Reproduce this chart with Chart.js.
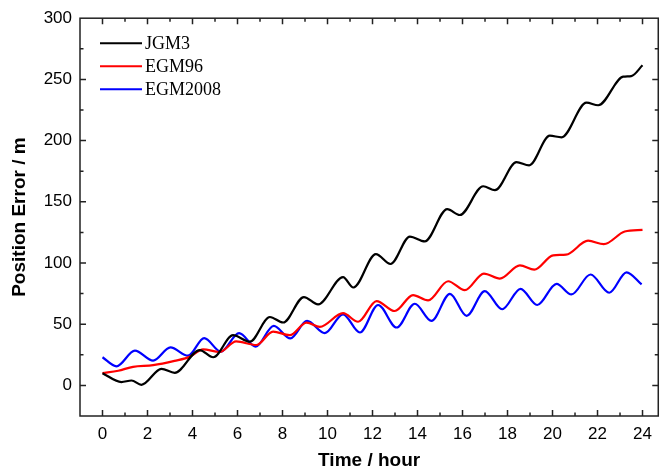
<!DOCTYPE html>
<html>
<head>
<meta charset="utf-8">
<script src="https://cdn.jsdelivr.net/npm/chart.js@4"></script>
<style>
  body { margin: 0; background: #fff; }
  #chart { display: block; }
</style>
</head>
<body>
<canvas id="chart" width="660" height="475"></canvas>
<script>
// values (hours, metres)
const jgm3Hours = [0, 0.84, 1.29, 1.73, 2.62, 3.21, 4.32, 4.92, 5.8, 6.55, 7.44, 8.03, 8.95, 9.58, 10.69, 11.15, 12.15, 12.8, 13.66, 14.32, 15.32, 15.88, 16.92, 17.44, 18.4, 18.96, 19.88, 20.4, 21.51, 22.03, 23.14, 23.5, 24];
const jgm3Values = [10, 2.7, 4, 0.5, 13.5, 10.3, 28.9, 23, 41, 35.7, 55.9, 51.4, 72.2, 66.2, 88.5, 80, 107.3, 99.2, 121.6, 117.6, 144, 139.2, 162.7, 159.5, 182.4, 179.8, 204, 202.7, 231, 228.9, 252.2, 252.7, 261.5];

const egm96Hours = [0, 0.7, 1.36, 2.25, 3.2, 3.9, 4.47, 5.2, 5.94, 6.84, 7.58, 8.32, 9.07, 9.66, 10.69, 11.36, 12.18, 12.99, 13.8, 14.47, 15.36, 16.1, 16.95, 17.66, 18.55, 19.19, 20.03, 20.6, 21.58, 22.28, 23.21, 24];
const egm96Values = [10, 12, 15.2, 16.5, 20, 23.5, 29.5, 27.3, 35.9, 33, 44, 41, 51.3, 47.8, 59, 52, 68.9, 60.8, 73.8, 69.5, 85.1, 77.8, 91.4, 87.3, 98, 94.6, 106.3, 106.8, 118.2, 115.4, 125.7, 127];

const egm2008Hours = [0, 0.62, 1.44, 2.25, 3.02, 3.8, 4.52, 5.26, 6.07, 6.81, 7.61, 8.35, 9.09, 9.88, 10.69, 11.44, 12.25, 13.07, 13.88, 14.62, 15.44, 16.18, 16.99, 17.76, 18.58, 19.32, 20.18, 20.84, 21.69, 22.52, 23.29, 23.96];
const egm2008Values = [23, 15.6, 28.4, 20.3, 31, 24.3, 38.7, 27.6, 42.7, 31.6, 48.6, 38.4, 52.7, 42.7, 58.1, 43.2, 65.7, 47.3, 66.7, 52.7, 74.8, 56.8, 77, 62.2, 78.9, 65.7, 83, 74.3, 90.6, 75.7, 92.4, 82.5];

const seriesNames = ["JGM3", "EGM96", "EGM2008"];
const seriesColors = ["#000000", "#ff0000", "#0000ff"];

const xMin = -1, xMax = 24.7, xStep = 1;
const yMin = -25, yMax = 300, yStep = 25;

function pts(hours, values) {
  return hours.map((h, i) => ({x: h, y: values[i]}));
}

const allSeries = [[jgm3Hours, jgm3Values], [egm96Hours, egm96Values], [egm2008Hours, egm2008Values]];

const datasets = allSeries.map((s, i) => ({
  label: seriesNames[i],
  data: pts(s[0], s[1]),
  borderColor: seriesColors[i],
  backgroundColor: seriesColors[i],
  borderWidth: 2.2,
  pointRadius: 0,
  fill: false,
  cubicInterpolationMode: "monotone"
}));

// frame with inward ticks on all four sides
const framePlugin = {
  id: "frame",
  afterDatasetsDraw(chart) {
    const {ctx, chartArea: a, scales} = chart;
    ctx.save();
    ctx.strokeStyle = "#222";
    ctx.lineWidth = 1.5;
    ctx.strokeRect(a.left, a.top, a.right - a.left, a.bottom - a.top);
    ctx.beginPath();
    scales.x.ticks.forEach(t => {
      const v = Math.round(t.value);
      if (v < 0 || v > 24) return;
      const px = scales.x.getPixelForValue(v);
      const len = v % 2 === 0 ? 6 : 3.5;
      ctx.moveTo(px, a.bottom); ctx.lineTo(px, a.bottom - len);
      ctx.moveTo(px, a.top); ctx.lineTo(px, a.top + len);
    });
    scales.y.ticks.forEach(t => {
      if (t.value <= yMin || t.value >= yMax) return;
      const py = scales.y.getPixelForValue(t.value);
      const len = t.value % 50 === 0 ? 6 : 3.5;
      ctx.moveTo(a.left, py); ctx.lineTo(a.left + len, py);
      ctx.moveTo(a.right, py); ctx.lineTo(a.right - len, py);
    });
    ctx.stroke();
    ctx.restore();
  }
};

// legend in the upper left of the plot
const legendPlugin = {
  id: "legendBox",
  afterDraw(chart) {
    const {ctx, chartArea: a} = chart;
    ctx.save();
    ctx.font = "18px 'Liberation Serif'";
    ctx.textBaseline = "middle";
    chart.data.datasets.forEach((ds, i) => {
      const y = a.top + 25 + i * 23;
      ctx.strokeStyle = ds.borderColor;
      ctx.lineWidth = 2;
      ctx.beginPath();
      ctx.moveTo(a.left + 20, y);
      ctx.lineTo(a.left + 62, y);
      ctx.stroke();
      ctx.fillStyle = "#000";
      ctx.fillText(ds.label, a.left + 65, y + 1);
    });
    ctx.restore();
  }
};

const tickFont = {family: "'Liberation Sans', Arial", size: 17};
const titleFont = {family: "'Liberation Sans', Arial", size: 19, weight: "bold"};

new Chart(document.getElementById("chart"), {
  type: "line",
  data: {datasets: datasets},
  options: {
    responsive: false,
    animation: false,
    devicePixelRatio: 1,
    layout: {padding: {top: 15, right: 1, left: 0, bottom: 0}},
    plugins: {legend: {display: false}, tooltip: {enabled: false}},
    scales: {
      x: {
        type: "linear",
        min: xMin,
        max: xMax,
        afterFit: s => { s.height = 59; },
        ticks: {
          stepSize: xStep,
          includeBounds: false,
          autoSkip: false,
          maxRotation: 0,
          padding: 8,
          color: "#000",
          font: tickFont,
          callback: v => {
            const r = Math.round(v);
            return (Math.abs(v - r) < 1e-6 && r >= 0 && r <= 24 && r % 2 === 0) ? String(r) : "";
          }
        },
        grid: {drawOnChartArea: false, drawTicks: false},
        border: {display: false},
        title: {display: true, text: "Time / hour", color: "#000", font: titleFont, padding: {top: 0, bottom: 3}}
      },
      y: {
        type: "linear",
        min: yMin,
        max: yMax,
        afterFit: s => { s.width = 80; },
        ticks: {
          stepSize: yStep,
          autoSkip: false,
          padding: 8,
          color: "#000",
          font: tickFont,
          callback: v => (v >= 0 && v % 50 === 0) ? String(v) : ""
        },
        grid: {drawOnChartArea: false, drawTicks: false},
        border: {display: false},
        title: {display: true, text: "Position Error / m", color: "#000", font: titleFont, padding: {top: 8, bottom: 0}}
      }
    }
  },
  plugins: [framePlugin, legendPlugin]
});
</script>
</body>
</html>
